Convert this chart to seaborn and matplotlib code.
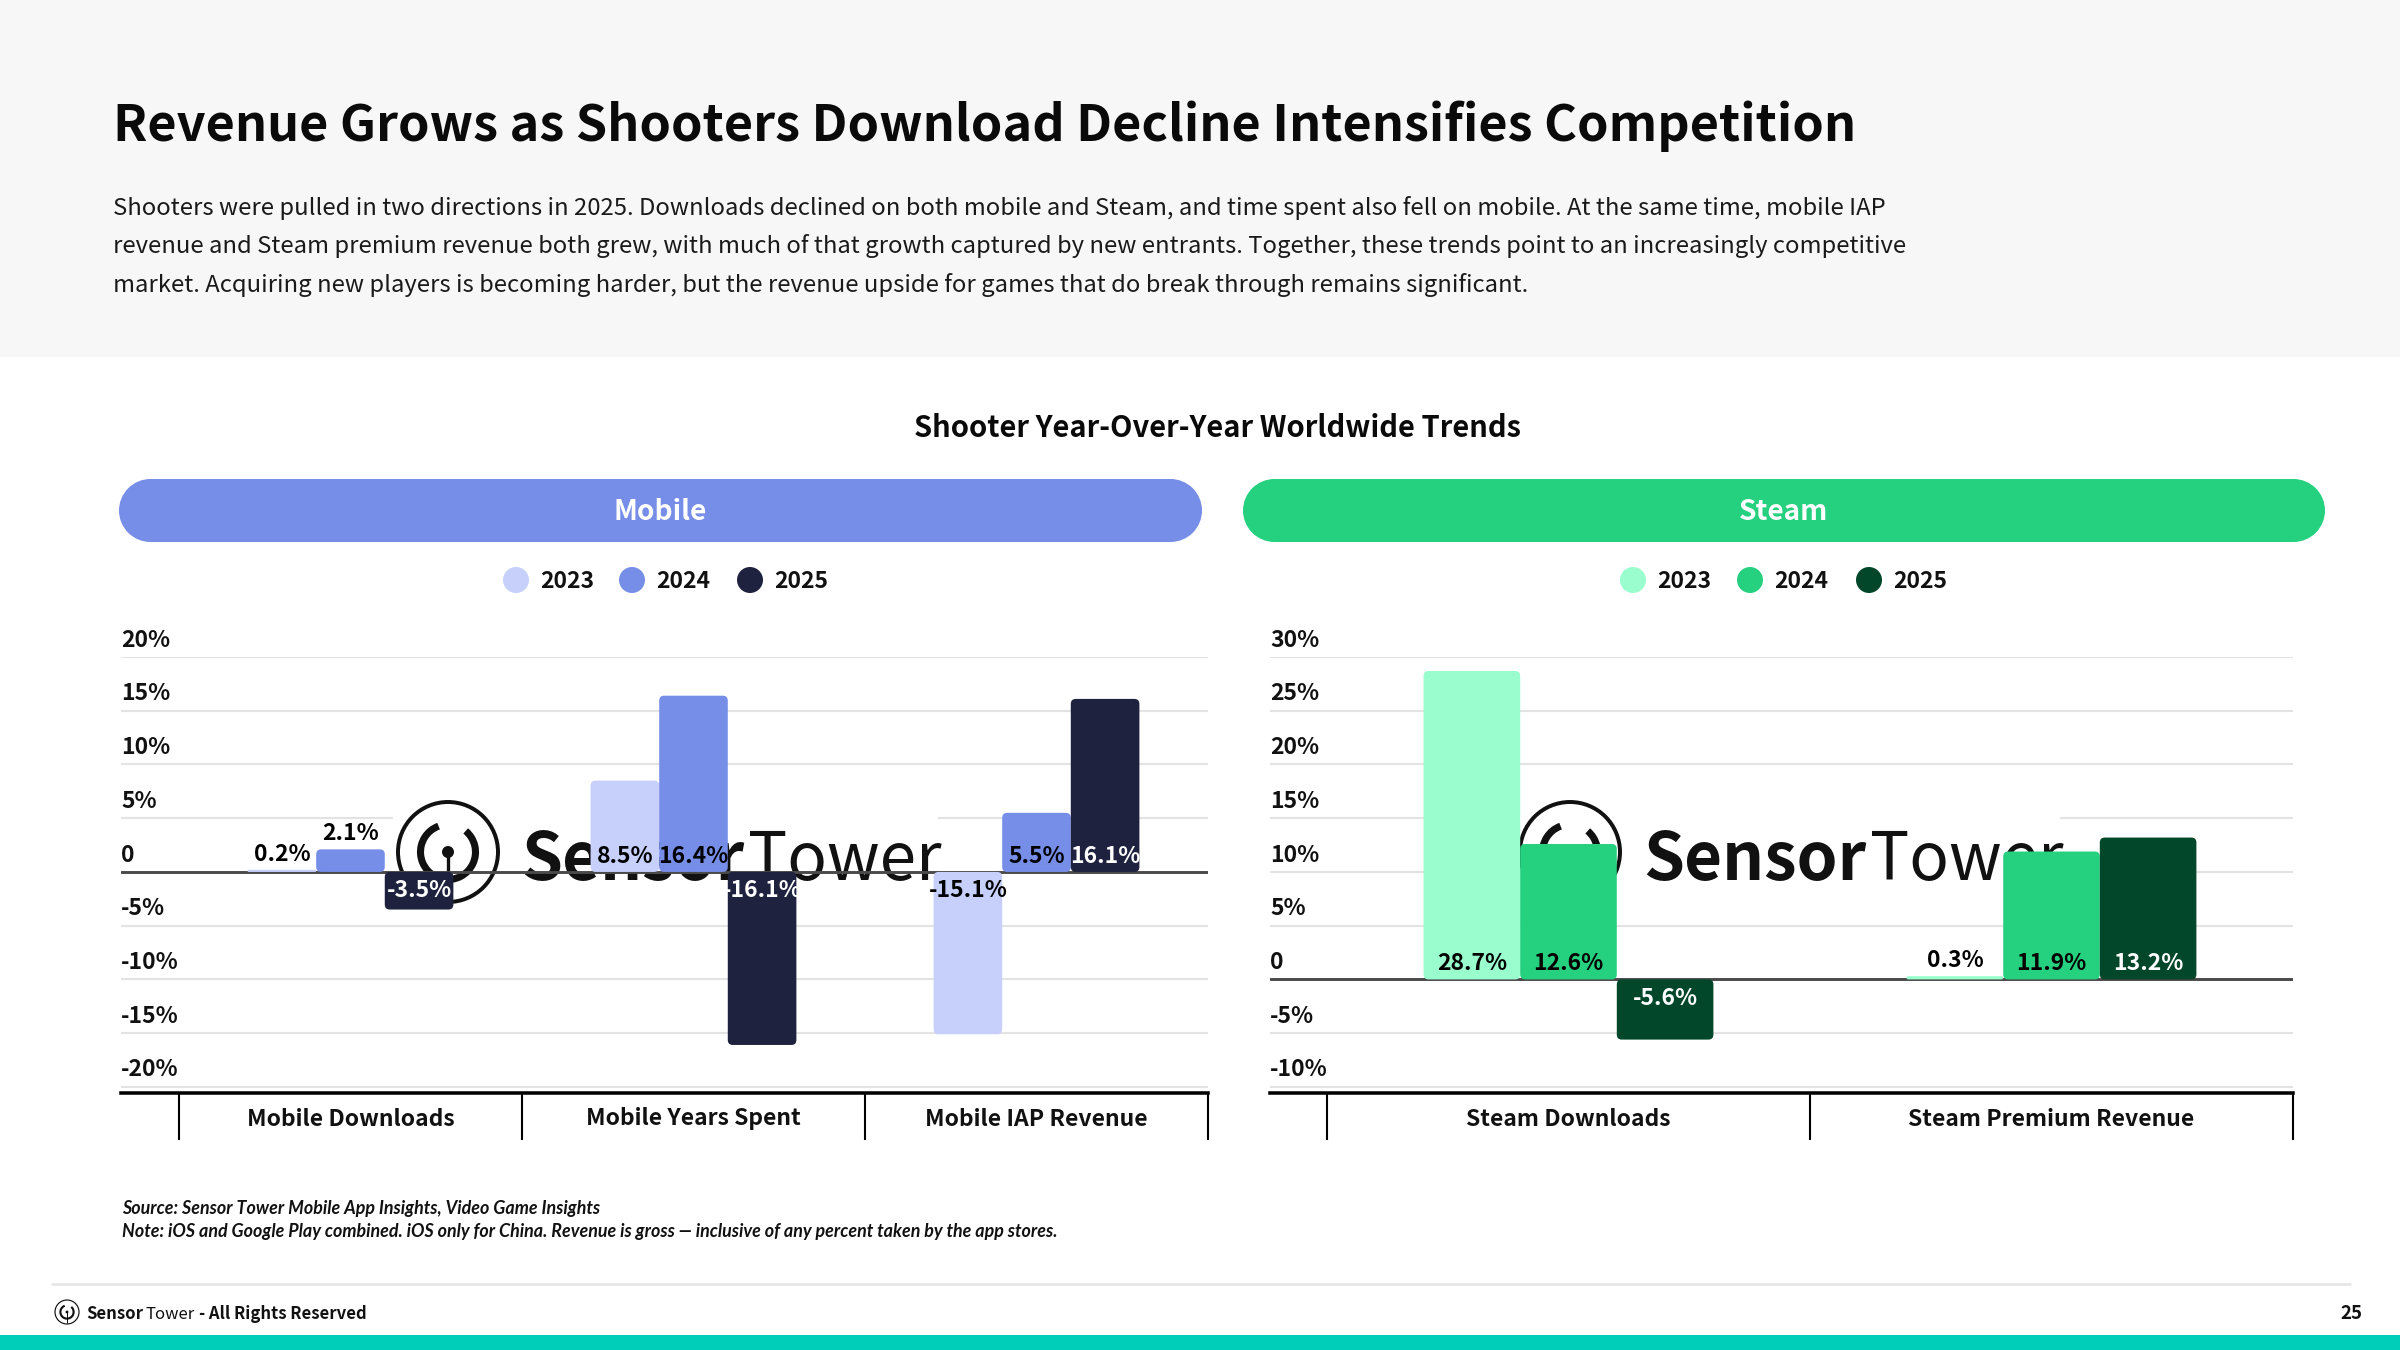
#%%
import numpy as np
import pandas as pd
import matplotlib
matplotlib.use("Agg")
import matplotlib.pyplot as plt
import matplotlib.transforms as mtransforms
from matplotlib.patches import FancyBboxPatch, Rectangle, Circle, Arc
import seaborn as sns

# %% data
years = ["2023", "2024", "2025"]

mobile_metrics = ["Mobile Downloads", "Mobile Years Spent", "Mobile IAP Revenue"]
mobile_2023 = [0.2, 8.5, -15.1]
mobile_2024 = [2.1, 16.4, 5.5]
mobile_2025 = [-3.5, -16.1, 16.1]

steam_metrics = ["Steam Downloads", "Steam Premium Revenue"]
steam_2023 = [28.7, 0.3]
steam_2024 = [12.6, 11.9]
steam_2025 = [-5.6, 13.2]

mobile_ticks = [20, 15, 10, 5, 0, -5, -10, -15, -20]
steam_ticks = [30, 25, 20, 15, 10, 5, 0, -5, -10]

mobile_colors = ["#c6d0fb", "#778ee8", "#1e223e"]
steam_colors = ["#99fdcd", "#25d07f", "#03472a"]

title = "Revenue Grows as Shooters Download Decline Intensifies Competition"
desc_lines = [
    "Shooters were pulled in two directions in 2025. Downloads declined on both mobile and Steam, and time spent also fell on mobile. At the same time, mobile IAP",
    "revenue and Steam premium revenue both grew, with much of that growth captured by new entrants. Together, these trends point to an increasingly competitive",
    "market. Acquiring new players is becoming harder, but the revenue upside for games that do break through remains significant.",
]
chart_title = "Shooter Year-Over-Year Worldwide Trends"
source_lines = [
    "Source: Sensor Tower Mobile App Insights, Video Game Insights",
    "Note: iOS and Google Play combined. iOS only for China. Revenue is gross \u2014 inclusive of any percent taken by the app stores.",
]

# %% style
sns.set_theme(style="white")
FONT = "Noto Sans CJK SC"
plt.rcParams["font.family"] = [FONT, "DejaVu Sans"]
W, H, DPI = 2400, 1350, 150
INK = "#111111"
LAB = 11.0  # size for ticks, legend, bar labels
LAB_W = "bold"

fig = plt.figure(figsize=(W / DPI, H / DPI), dpi=DPI)
fig.patch.set_facecolor("white")

# background axes in pixel coords (y down)
bg = fig.add_axes([0, 0, 1, 1])
bg.set_xlim(0, W)
bg.set_ylim(H, 0)
bg.axis("off")

# pixel transform usable from any axes
px = mtransforms.Affine2D().scale(1 / DPI, -1 / DPI).translate(0, H / DPI) + fig.dpi_scale_trans
renderer = fig.canvas.get_renderer()


def draw_logo(ax, cx, cy, r, tr, z, scale_lw=1.0):
    ax.add_patch(Circle((cx, cy), r, fill=False, ec=INK, lw=1.9 * scale_lw,
                        transform=tr, zorder=z))
    ax.add_patch(Arc((cx, cy), 1.1 * r, 1.1 * r, theta1=-50, theta2=250, ec=INK,
                     lw=3.4 * scale_lw, transform=tr, zorder=z))
    ax.plot([cx, cx], [cy, cy + 0.95 * r], color=INK, lw=1.6 * scale_lw,
            transform=tr, zorder=z, solid_capstyle="butt")
    ax.add_patch(Circle((cx, cy), 0.12 * r, fc=INK, ec="none", transform=tr, zorder=z))


def run_text(ax, x, y, parts, tr, size, z=3):
    # parts: list of (text, weight, gap after in px); one baseline, left to right
    for txt, wt, gap in parts:
        t = ax.text(x, y, txt, fontsize=size, fontweight=wt, color=INK,
                    ha="left", va="baseline", transform=tr, zorder=z)
        bb = t.get_window_extent(renderer)
        x = bb.x1 + gap


# %% header
bg.add_patch(Rectangle((0, 0), W, 357, fc="#f7f7f7", ec="none"))
bg.text(113, 141, title, fontsize=24.2, fontweight="bold", color="#0a0a0a", va="baseline")
for i, line in enumerate(desc_lines):
    bg.text(113, 215 + i * 38.5, line, fontsize=11.45, color="#1a1a1a", va="baseline")

bg.text(1218, 437, chart_title, fontsize=14, fontweight="bold", color="#0a0a0a",
        ha="center", va="baseline")


# %% panels
def draw_panel(rect_px, metrics, series, colors, ticks, ylim, xlim, pill, legend_x, wm_cx):
    L, T, R, B = rect_px
    ax = fig.add_axes([L / W, 1 - B / H, (R - L) / W, (B - T) / H])
    ax.set_facecolor("none")

    rows = []
    for yr, vals in zip(years, series):
        for m, v in zip(metrics, vals):
            rows.append({"metric": m, "year": yr, "value": v})
    df = pd.DataFrame(rows)

    sns.barplot(data=df, x="metric", y="value", hue="year", order=metrics,
                hue_order=years, palette=colors, width=0.6, saturation=1,
                legend=False, ax=ax)
    ax.set_xlim(*xlim)
    ax.set_ylim(*ylim)
    ax.set_xlabel("")
    ax.set_ylabel("")

    px_x = (R - L) / (xlim[1] - xlim[0])
    px_y = (B - T) / (ylim[1] - ylim[0])
    aspect = px_x / px_y

    # rounded bars + value labels
    for ci, cont in enumerate(ax.containers):
        for bi, p in enumerate(cont):
            x0, w = p.get_x(), p.get_width()
            y0, h = p.get_y(), p.get_height()
            ylo, hh = min(y0, y0 + h), abs(h)
            rs = min(5 / px_x, w / 2, hh / aspect / 2)
            ax.add_patch(FancyBboxPatch((x0, ylo), w, hh,
                                        boxstyle=f"round,pad=0,rounding_size={rs}",
                                        mutation_aspect=aspect, fc=p.get_facecolor(),
                                        ec="none", zorder=2))
            p.set_visible(False)

            v = series[ci][bi]
            if v >= 0:
                ly = 1.45 if v >= 3.2 else v + 1.45
                col = "white" if (ci == 2 and v >= 3.2) else "black"
            else:
                ly = -1.75
                col = "white" if ci == 2 else "black"
            ax.text(x0 + w / 2, ly, f"{v:.1f}%", ha="center", va="center",
                    fontsize=LAB, fontweight=LAB_W, color=col, zorder=3)

    # grid + zero line
    for t in ticks:
        if t != 0:
            ax.axhline(t, color="#e3e3e3", lw=1.0, zorder=0.5)
        lab = "0" if t == 0 else f"{t}%"
        ax.annotate(lab, xy=(xlim[0], t), xytext=(0, 2.6), textcoords="offset points",
                    ha="left", va="bottom", fontsize=LAB, fontweight=LAB_W,
                    color=INK, annotation_clip=False)
    ax.axhline(0, color="#4a4a4a", lw=1.4, zorder=1.5)
    ax.set_yticks([])

    # category axis: separators as long ticks, labels centered below
    sns.despine(ax=ax, left=True, top=True, right=True)
    ax.spines["bottom"].set_color("black")
    ax.spines["bottom"].set_linewidth(1.7)
    ax.spines["bottom"].set_zorder(4)
    ax.set_xticks(np.arange(-0.5, len(metrics)), labels=[""] * (len(metrics) + 1))
    ax.tick_params(axis="x", which="major", bottom=True, length=22.5, width=1.0,
                   color="black", direction="out")
    blend = mtransforms.blended_transform_factory(ax.transData, ax.transAxes)
    for i, m in enumerate(metrics):
        ax.text(i, -26 / (B - T), m, transform=blend, ha="center", va="center",
                fontsize=LAB, fontweight=LAB_W, color=INK, clip_on=False)

    # watermark (sits over grid, under bars)
    ax.add_patch(Rectangle((wm_cx - 55, 788), 545, 123, fc="white", ec="none",
                           transform=px, zorder=1))
    draw_logo(ax, wm_cx, 852, 50, px, 1.2)
    run_text(ax, wm_cx + 73, 880, [("Sensor", "bold", 4), ("Tower", "normal", 0)],
             px, 31.5, z=1.2)

    # pill header
    pl, pr, pt, pb = pill[0], pill[1], 479, 542
    rad = (pb - pt) / 2
    bg.add_patch(Rectangle((pl + rad, pt), pr - pl - 2 * rad, pb - pt, fc=pill[2], ec="none"))
    bg.add_patch(Circle((pl + rad, pt + rad), rad, fc=pill[2], ec="none"))
    bg.add_patch(Circle((pr - rad, pt + rad), rad, fc=pill[2], ec="none"))
    bg.text((pl + pr) / 2, pt + rad + 1, pill[3], ha="center", va="center",
            fontsize=13.5, fontweight="bold", color="white")

    # legend
    for lx, yr, c in zip(legend_x, years, colors):
        bg.add_patch(Circle((lx, 580), 13, fc=c, ec="none"))
        bg.text(lx + 24, 581, yr, ha="left", va="center", fontsize=LAB,
                fontweight=LAB_W, color=INK)
    return ax


ax_m = draw_panel((121, 657, 1208, 1093), mobile_metrics,
                  [mobile_2023, mobile_2024, mobile_2025], mobile_colors,
                  mobile_ticks, (-20.57, 20), (-0.669, 2.5),
                  (119, 1202, "#778ee8", "Mobile"), (516, 632, 750), 448)

ax_s = draw_panel((1270, 657, 2293, 1093), steam_metrics,
                  [steam_2023, steam_2024, steam_2025], steam_colors,
                  steam_ticks, (-10.57, 30), (-0.618, 1.5),
                  (1243, 2325, "#25d07f", "Steam"), (1633, 1750, 1869), 1570)

# %% footer
for i, line in enumerate(source_lines):
    bg.text(122, 1214 + i * 23, line, fontsize=8.6, fontstyle="italic",
            fontweight="bold", family=["Lato", "DejaVu Sans"], color=INK,
            va="baseline")

bg.plot([52, 2350], [1284, 1284], color="#e4e4e4", lw=1.2)
draw_logo(bg, 67, 1312, 12, bg.transData, 3, scale_lw=0.3)
run_text(bg, 86, 1319, [("Sensor", "bold", 2), ("Tower", "normal", 5),
                        ("- All Rights Reserved", "bold", 0)], bg.transData, 8.0)
bg.text(2362, 1319, "25", ha="right", va="baseline", fontsize=9, fontweight="bold",
        color=INK)
bg.add_patch(Rectangle((0, 1335), W, 15, fc="#00ceb8", ec="none"))

fig.savefig("out.png", dpi=DPI)
